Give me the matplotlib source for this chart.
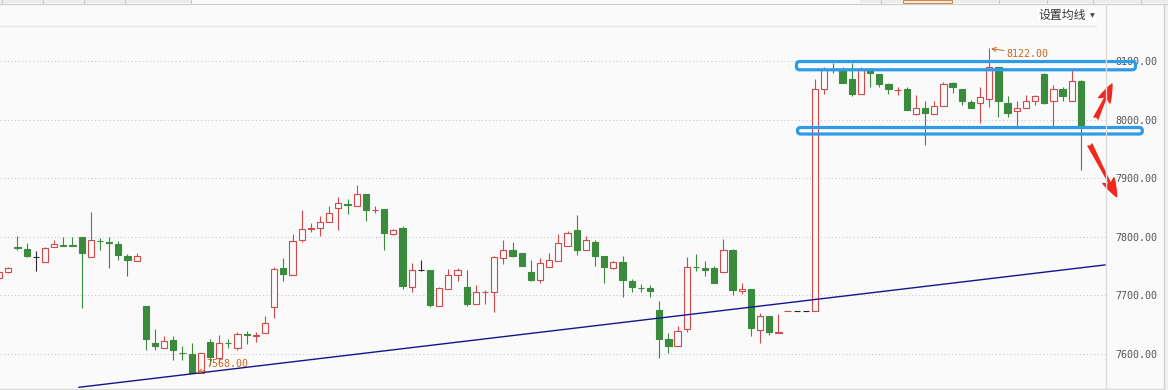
import matplotlib
matplotlib.use("Agg")
import matplotlib.pyplot as plt
from matplotlib.patches import Rectangle, FancyBboxPatch
from matplotlib.lines import Line2D
import numpy as np

# ---------------- data ----------------
opens = [7730, 7740, 7783, 7779, 7766, 7757, 7783, 7786, 7786, 7799,
         7766, 7793, 7791, 7787, 7768, 7759, 7682, 7619, 7610, 7624,
         7602, 7600, 7568, 7620, 7594, 7619, 7611, 7634, 7631, 7635,
         7681, 7747, 7735, 7794, 7814, 7815, 7826, 7849, 7856, 7853,
         7873, 7845, 7848, 7805, 7815, 7715, 7743, 7743, 7682, 7711,
         7735, 7714, 7686, 7705, 7706, 7764, 7777, 7772, 7740, 7726,
         7749, 7759, 7785, 7811, 7777, 7791, 7767, 7747, 7757, 7725,
         7713, 7712, 7675, 7625, 7613, 7642, 7749, 7747, 7747, 7740,
         7778, 7707, 7711, 7641, 7665, 7635, 7673.5, 7674, 7674, 7674,
         8053, 8087, 8086, 8069, 8043, 8087, 8078, 8061, 8050, 8052,
         8010, 8019, 8010, 8024, 8063, 8053, 8030, 8028, 8035, 8089,
         8028, 8014, 8019, 8031, 8077, 8031, 8052, 8032, 8066, 7985]
highs = [7742, 7749, 7802, 7789, 7776, 7783, 7794, 7800, 7800, 7799,
         7842, 7798, 7800, 7792, 7771, 7773, 7682, 7643, 7631, 7631,
         7614, 7618, 7602, 7625, 7632, 7625, 7637, 7640, 7638, 7665,
         7749, 7764, 7804, 7845, 7824, 7836, 7853, 7868, 7865, 7889,
         7873, 7852, 7848, 7814, 7819, 7756, 7760, 7743, 7715, 7745,
         7747, 7743, 7718, 7709, 7768, 7795, 7791, 7772, 7761, 7764,
         7773, 7805, 7810, 7838, 7801, 7795, 7767, 7759, 7768, 7728,
         7720, 7717, 7691, 7635, 7648, 7766, 7770, 7758, 7751, 7797,
         7779, 7722, 7711, 7670, 7665, 7669, 7674, 7674, 7674, 8069,
         8090, 8097, 8090, 8096, 8090, 8088, 8078, 8063, 8055, 8055,
         8042, 8032, 8032, 8064, 8064, 8053, 8033, 8055, 8122, 8089,
         8040, 8031, 8042, 8042, 8079, 8059, 8056, 8084, 8068, 7985]
lows = [7728, 7738, 7777, 7766, 7741, 7757, 7782, 7784, 7784, 7679,
        7766, 7777, 7746, 7760, 7733, 7759, 7606, 7606, 7610, 7589,
        7590, 7568, 7568, 7582, 7584, 7610, 7606, 7617, 7621, 7635,
        7661, 7724, 7735, 7791, 7808, 7801, 7826, 7811, 7839, 7853,
        7827, 7840, 7778, 7803, 7711, 7706, 7741, 7680, 7682, 7711,
        7724, 7682, 7686, 7685, 7672, 7753, 7766, 7750, 7724, 7722,
        7749, 7759, 7785, 7769, 7777, 7750, 7722, 7745, 7697, 7705,
        7705, 7698, 7594, 7602, 7613, 7638, 7742, 7733, 7721, 7740,
        7700, 7703, 7631, 7619, 7632, 7635, 7673.5, 7674, 7674, 7674,
        8043, 8079, 8062, 8041, 8043, 8055, 8055, 8043, 8042, 8017,
        8007, 7956, 8010, 8024, 8046, 8025, 8020, 7994, 8022, 8004,
        8004, 7985, 8019, 8025, 8026, 7989, 8031, 8032, 7914, 7985]
closes = [7740, 7747, 7781, 7767, 7766, 7781, 7788, 7785, 7785, 7773,
          7794, 7792, 7790, 7769, 7760, 7767, 7625, 7613, 7623, 7606,
          7601, 7568, 7601, 7595, 7618, 7618, 7634, 7633, 7632, 7653,
          7745, 7737, 7793, 7814, 7815, 7826, 7840, 7857, 7855, 7873,
          7845, 7846, 7806, 7812, 7716, 7743, 7743, 7683, 7712, 7735,
          7744, 7686, 7705, 7706, 7766, 7777, 7768, 7750, 7726, 7756,
          7760, 7789, 7807, 7777, 7794, 7767, 7748, 7757, 7726, 7714,
          7712, 7707, 7625, 7614, 7640, 7749, 7748, 7743, 7721, 7778,
          7709, 7711, 7644, 7665, 7637, 7638, 7674, 7674, 7674, 8053,
          8086, 8086, 8062, 8044, 8086, 8079, 8061, 8052, 8051, 8017,
          8019, 8011, 8024, 8060, 8055, 8031, 8020, 8038, 8089, 8031,
          8012, 8019, 8031, 8040, 8028, 8053, 8041, 8066, 7989, 7985]

y_ticks = [7600, 7700, 7800, 7900, 8000, 8100]
y_tick_labels = ["%.2f" % v for v in y_ticks]

trend_x = [8.71, 120.62]
trend_y = [7543.2, 7752.0]

high_label, high_index, high_value = "8122.00", 108, 8122
low_label, low_index, low_value = "7568.00", 21, 7568

range_top = [8085.0, 8099.1]
range_bottom = [7975.4, 7986.5]

menu_label = "设置均线"

# ---------------- style ----------------
BG = "#fafafa"
RED = "#d4484a"
GREEN = "#3a8c3c"
DOJI = "#2a2a2a"
ORANGE = "#c8661e"
BLUE_BOX = "#2f9be6"
ARROW_RED = "#f0281e"
W, H = 1168, 390

fig = plt.figure(figsize=(W / 100, H / 100), dpi=100)
fig.patch.set_facecolor(BG)
ax = fig.add_axes([0, 2 / H, 1105.7 / W, 363 / H])
ax.set_facecolor(BG)
ax.set_xlim(0.095, 120.70)
ax.set_ylim(7541.98, 8161.43)

# candles
n = len(opens)
body_w = 0.68
for i in range(n):
    o, h, l, c = opens[i], highs[i], lows[i], closes[i]
    if c > o:
        col, face = RED, BG
    elif c < o:
        col, face = GREEN, GREEN
    else:
        col, face = DOJI, DOJI
    if h > l:
        ax.vlines(i, l, h, color=col, lw=0.8, zorder=2)
    ax.add_patch(Rectangle((i - body_w / 2, min(o, c)), body_w, abs(c - o),
                           facecolor=face, edgecolor=col, lw=0.8, zorder=3))

# trend line
ax.plot(trend_x, trend_y, color="#14148c", lw=1.0, zorder=4)

# axes styling
ax.yaxis.tick_right()
ax.set_yticks(y_ticks)
ax.set_yticklabels(y_tick_labels, family="DejaVu Sans Mono", fontsize=7.2,
                   color="#555555")
ax.tick_params(axis="y", length=0, pad=6.7)
ax.set_xticks([])
for s in ax.spines.values():
    s.set_visible(False)
ax.grid(axis="y", color="#c4c4c4", linestyle=(0, (1, 2.5)), lw=0.75)
ax.set_axisbelow(True)

# high / low labels
ax.annotate(high_label, xy=(high_index + 0.2, high_value - 1), xytext=(109.9, 8111.9),
            color=ORANGE, fontsize=7.2, family="DejaVu Sans Mono",
            ha="left", va="center", zorder=7,
            arrowprops=dict(arrowstyle="->", color=ORANGE, lw=0.7,
                            shrinkA=0, shrinkB=0))
ax.annotate(low_label, xy=(low_index + 0.6, low_value + 0.5), xytext=(22.64, 7582.4),
            color=ORANGE, fontsize=7.2, family="DejaVu Sans Mono",
            ha="left", va="center", zorder=7,
            arrowprops=dict(arrowstyle="->", color=ORANGE, lw=0.7,
                            shrinkA=0, shrinkB=0))

# range boxes (drawn annotation)
asp = (1 / 0.586) / (1 / 9.168)
for (y0, y1), (x0, x1) in [(range_top, (86.97, 123.95)),
                           (range_bottom, (87.08, 124.7))]:
    ax.add_patch(FancyBboxPatch((x0, y0), x1 - x0, y1 - y0,
                                boxstyle="round,pad=0,rounding_size=0.35",
                                mutation_aspect=asp, ec=BLUE_BOX, fc="none",
                                lw=2.3, clip_on=False, zorder=6))

# red arrows
for start, end in [((119.64, 8002.7), (121.38, 8060.7)),
                   ((118.98, 7956.7), (121.90, 7868.5))]:
    ax.annotate("", xy=end, xytext=start, annotation_clip=False, zorder=8,
                arrowprops=dict(arrowstyle="fancy,head_length=1.3,head_width=0.9,tail_width=0.32",
                                color=ARROW_RED, shrinkA=0, shrinkB=0))

# ---------------- window chrome ----------------
def fx(x):
    return x / W

def fy(y):
    return 1 - y / H

fig.add_artist(Rectangle((fx(0), fy(3)), 1, 3 / H, transform=fig.transFigure,
                         facecolor="#ececec", edgecolor="none", zorder=0))
fig.add_artist(Rectangle((fx(191), fy(3)), fx(860 - 191), 3 / H, transform=fig.transFigure,
                         facecolor=BG, edgecolor="none", zorder=0))
for xs in [1.7, 43, 84, 125, 191, 880.7, 999, 1046.7, 1093, 1141]:
    fig.add_artist(Line2D([fx(xs)] * 2, [fy(0), fy(3)], color="#c8c8c8", lw=0.8))
fig.add_artist(Rectangle((fx(903), fy(3)), fx(49), 3 / H, transform=fig.transFigure,
                         facecolor="#fbeee2", edgecolor="#d08a50", lw=0.8, zorder=1))
fig.add_artist(Line2D([0, 1], [fy(3.5)] * 2, color="#cccccc", lw=0.8))
fig.add_artist(Line2D([0, fx(1096)], [fy(25.5)] * 2, color="#e6e6e6", lw=1.0))
fig.add_artist(Rectangle((fx(1037), fy(22)), fx(59), 14 / H, transform=fig.transFigure,
                         facecolor="white", edgecolor="none", zorder=1))
fig.text(fx(1038), fy(15.5), menu_label, family=["Noto Sans CJK SC", "DejaVu Sans"],
         fontsize=8.6, color="#333333", ha="left", va="center")
fig.text(fx(1092), fy(15.5), "▼", family="DejaVu Sans", fontsize=4.5,
         color="#444444", ha="center", va="center")
fig.add_artist(Line2D([fx(1105.7)] * 2, [fy(4), 0], color="#dcdcdc", lw=1.0))
fig.add_artist(Line2D([fx(1163.5)] * 2, [fy(4), 0], color="#d2d2d2", lw=1.0))
fig.add_artist(Rectangle((fx(1164), 0), fx(4), fy(4), transform=fig.transFigure,
                         facecolor="#f0f0f0", edgecolor="none", zorder=0))
fig.add_artist(Line2D([0, fx(1164)], [fy(388.5)] * 2, color="#dadada", lw=1.0))

fig.savefig("out.png", dpi=100, facecolor=BG)
